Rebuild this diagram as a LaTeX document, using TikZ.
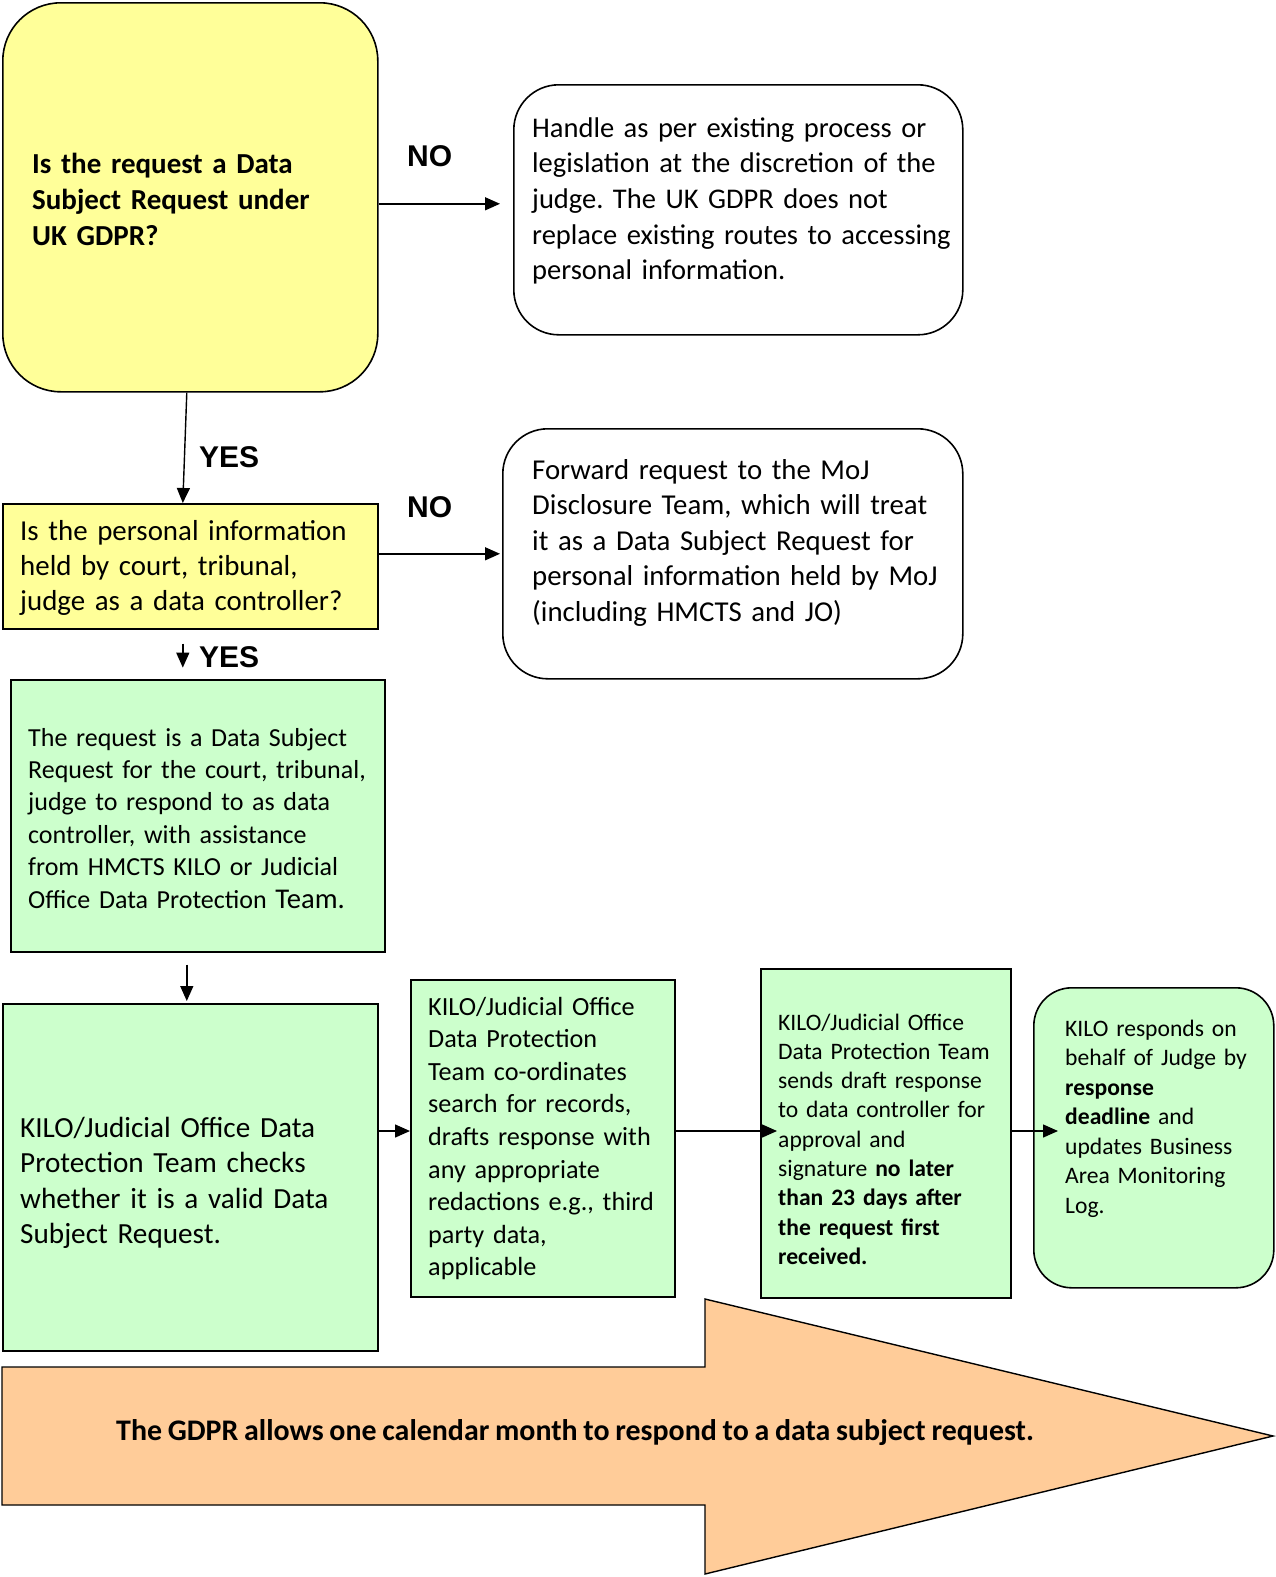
\documentclass[tikz,border=0pt]{standalone}
\usepackage{fontspec}
\setmainfont{Carlito}[WordSpace=0.85]
\newfontfamily\labfont{Liberation Sans}
\usetikzlibrary{arrows.meta,calc}
\definecolor{yfill}{RGB}{255,255,153}
\definecolor{gfill}{RGB}{204,255,204}
\definecolor{ofill}{RGB}{255,204,153}
\newcommand{\fsz}[2]{\fontsize{#1pt}{#2pt}\selectfont}
\frenchspacing
\begin{document}
\begin{tikzpicture}[x=1pt,y=-1pt,
  box/.style={draw, line width=1.6pt, inner sep=0pt, anchor=north west},
  txt/.style={inner sep=0pt, anchor=base west, align=left},
  lbl/.style={inner sep=0pt, anchor=base west, font=\labfont\bfseries\fsz{30}{36}},
  arr/.style={-{Triangle[length=15pt,width=13pt]}, line width=1.4pt}]
\useasboundingbox (0,0) rectangle (1275,1577);

% boxes
\node[box, fill=yfill, rounded corners=58pt, minimum width=375pt, minimum height=389pt] (q1) at (2,2) {};
\node[box, fill=white, rounded corners=45pt, minimum width=449pt, minimum height=250pt] (r1) at (513,84) {};
\node[box, fill=yfill, minimum width=375pt, minimum height=125pt] (q2) at (2,503) {};
\node[box, fill=white, rounded corners=45pt, minimum width=460pt, minimum height=250pt] (r2) at (502,428) {};
\node[box, fill=gfill, minimum width=374pt, minimum height=272pt] (g1) at (10,679) {};
\node[box, fill=gfill, minimum width=375pt, minimum height=347pt] (g2) at (2,1003) {};
\node[box, fill=gfill, minimum width=264pt, minimum height=317pt] (g3) at (410,979) {};
\node[box, fill=gfill, minimum width=250pt, minimum height=329pt] (g4) at (760,968) {};
\node[box, fill=gfill, rounded corners=38pt, minimum width=240pt, minimum height=300pt] (g5) at (1033,987) {};

% big arrow
\draw[line width=1.4pt, fill=ofill] (2,1367) -- (705,1367) -- (705,1299) -- (1273,1436)
  -- (705,1574) -- (705,1505) -- (2,1505) -- cycle;

% texts
\node[txt, text width=340pt, font=\bfseries\fsz{29}{36}] (q1t) at (32,173)
  {Is the request a Data\\Subject Request under\\UK GDPR?};
\node[txt, text width=440pt, font=\fsz{28.5}{35.7}] (r1t) at (532,137)
  {Handle as per existing process or\\legislation at the discretion of the\\judge. The UK GDPR does not\\replace existing routes to accessing\\personal information.};
\node[txt, text width=355pt, font=\fsz{28.9}{35}] (q2t) at (20,540)
  {Is the personal information\\held by court, tribunal,\\judge as a data controller?};
\node[txt, text width=440pt, font=\fsz{28.8}{35.6}] (r2t) at (532,479)
  {Forward request to the MoJ\\Disclosure Team, which will treat\\it as a Data Subject Request for\\personal information held by MoJ\\(including HMCTS and JO)};
\node[txt, text width=360pt, font=\fsz{26}{32.4}] (g1t) at (28,746)
  {The request is a Data Subject\\Request for the court, tribunal,\\judge to respond to as data\\controller, with assistance\\from HMCTS KILO or Judicial\\Office Data Protection {\fsz{28.6}{35}Team.}};
\node[txt, text width=355pt, font=\fsz{29.2}{35.5}] (g2t) at (20,1137)
  {KILO/Judicial Office Data\\Protection Team checks\\whether it is a valid Data\\Subject Request.};
\node[txt, text width=250pt, font=\fsz{26.2}{32.6}] (g3t) at (428,1015)
  {KILO/Judicial Office\\Data Protection\\Team co-ordinates\\search for records,\\drafts response with\\any appropriate\\redactions e.g., third\\party data,\\applicable};
\node[txt, text width=235pt, font=\fsz{23.6}{29.3}] (g4t) at (778,1030)
  {KILO/Judicial Office\\Data Protection Team\\sends draft response\\to data controller for\\approval and\\signature \textbf{no later}\\\textbf{than 23 days after}\\\textbf{the request first}\\\textbf{received.}};
\node[txt, text width=205pt, font=\fsz{23.6}{29.5}] (g5t) at (1065,1036)
  {KILO responds on\\behalf of Judge by\\\textbf{response}\\\textbf{deadline} and\\updates Business\\Area Monitoring\\Log.};
\node[txt, font=\bfseries\fsz{29.9}{36}] (gdprt) at (116,1440)
  {The GDPR allows one calendar month to respond to a data subject request.};

% labels
\node[lbl] (no1) at (407,166) {NO};
\node[lbl] (no2) at (407,517) {NO};
\node[lbl] (yes1) at (199,467) {YES};
\node[lbl] (yes2) at (199,667) {YES};

% connectors
\draw[arr, shorten >=13pt] ([yshift=-6.5pt]q1.east) -- ([yshift=-6.5pt]q1.east -| r1.west);
\draw[arr] ([xshift=-3.5pt]q1.south) -- ([xshift=-7.5pt]q2.north);
\draw[arr, shorten >=2pt] ([yshift=12.5pt]q2.east) -- ([yshift=12.5pt]q2.east -| r2.west);
\draw[arr] ([xshift=-7.5pt,yshift=-14pt]q2.south) -- ++(0,24);
\coordinate (c5) at ([xshift=-11pt]g1.south);
\draw[arr, shorten <=12pt, shorten >=2pt] (c5) -- (c5 |- g2.north);
\coordinate (row) at (0,1131);
\draw[arr] (g2.east |- row) -- (g3.west |- row);
\draw[arr, shorten >=-17pt] (g3.east |- row) -- (g4.west |- row);
\draw[arr, shorten >=-25pt] (g4.east |- row) -- (g5.west |- row);
\end{tikzpicture}
\end{document}
